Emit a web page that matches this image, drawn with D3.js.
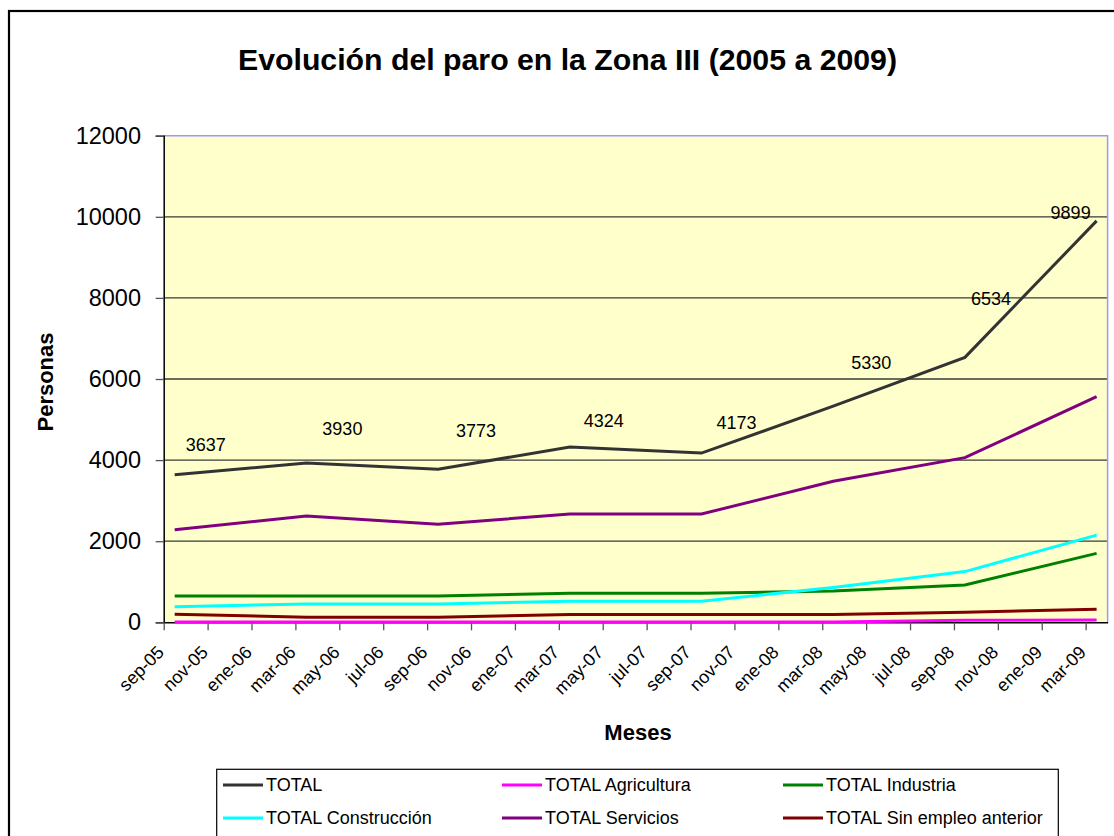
<!DOCTYPE html>
<html lang="es">
<head>
<meta charset="utf-8">
<title>Evolución del paro en la Zona III (2005 a 2009)</title>
<script src="https://cdn.jsdelivr.net/npm/d3@7"></script>
<style>
  html, body { margin: 0; padding: 0; background: #ffffff; }
  svg { display: block; font-family: "Liberation Sans", Arial, sans-serif; }
</style>
</head>
<body>
<svg id="chart" width="1114" height="836"></svg>
<script>
// Semiannual unemployment figures, Zona III
const pointMonths  = ["sep-05", "mar-06", "sep-06", "mar-07", "sep-07", "mar-08", "sep-08", "mar-09"];
const total        = [3637, 3930, 3773, 4324, 4173, 5330, 6534, 9899];
const agricultura  = [5, 5, 5, 5, 5, 5, 50, 55];
const industria    = [650, 650, 650, 715, 715, 770, 920, 1700];
const construccion = [385, 450, 450, 520, 520, 860, 1250, 2150];
const servicios    = [2280, 2620, 2420, 2670, 2670, 3480, 4060, 5565];
const sinEmpleo    = [200, 125, 125, 190, 190, 195, 250, 320];

// Axis labels
const axisMonths = ["sep-05", "nov-05", "ene-06", "mar-06", "may-06", "jul-06", "sep-06", "nov-06",
                    "ene-07", "mar-07", "may-07", "jul-07", "sep-07", "nov-07", "ene-08", "mar-08",
                    "may-08", "jul-08", "sep-08", "nov-08", "ene-09", "mar-09"];
const yTicks = [0, 2000, 4000, 6000, 8000, 10000, 12000];

const seriesNames  = ["TOTAL", "TOTAL Agricultura", "TOTAL Industria",
                      "TOTAL Construcción", "TOTAL Servicios", "TOTAL Sin empleo anterior"];
const seriesValues = [total, agricultura, industria, construccion, servicios, sinEmpleo];
const seriesColors = ["#333333", "#ff00ff", "#008000", "#00ffff", "#800080", "#800000"];

// Month labels -> month index counted from sep-05
const mesAbbr = ["ene", "feb", "mar", "abr", "may", "jun", "jul", "ago", "sep", "oct", "nov", "dic"];
function monthIndex(label) {
  const [m, yy] = label.split("-");
  return (2000 + (+yy) - 2005) * 12 + mesAbbr.indexOf(m) - 8;
}
const spanMonths = monthIndex("mar-09") + 1;   // plot runs to the end of mar-09

const svg = d3.select("#chart");
const plot = { left: 163.7, right: 1107.6, top: 135.7, bottom: 622.3 };
const font = '"Liberation Sans", Arial, sans-serif';

// Outer chart frame
svg.append("rect")
  .attr("x", 9).attr("y", 11).attr("width", 1300).attr("height", 1000)
  .attr("fill", "#ffffff").attr("stroke", "#000000").attr("stroke-width", 2.2);

// Title
svg.append("text")
  .attr("x", 567.5).attr("y", 70)
  .attr("text-anchor", "middle")
  .attr("font-size", 30).attr("font-weight", "bold")
  .attr("textLength", 659).attr("lengthAdjust", "spacingAndGlyphs")
  .text("Evolución del paro en la Zona III (2005 a 2009)");

// Scales
const x = d3.scaleLinear().domain([0, spanMonths]).range([plot.left, plot.right]);
const y = d3.scaleLinear().domain([0, 12000]).range([plot.bottom, plot.top]);

// Plot background
svg.append("rect")
  .attr("x", plot.left).attr("y", plot.top)
  .attr("width", plot.right - plot.left).attr("height", plot.bottom - plot.top)
  .attr("fill", "#ffffcc");

// Horizontal gridlines
svg.append("g")
  .selectAll("line")
  .data(yTicks.filter(v => v > 0 && v < 12000))
  .join("line")
  .attr("x1", plot.left).attr("x2", plot.right)
  .attr("y1", d => y(d)).attr("y2", d => y(d))
  .attr("stroke", "#3a3a3a").attr("stroke-width", 1.3);

// Plot area border (top and right)
svg.append("path")
  .attr("d", `M${plot.left},${y(12000)}H${plot.right}V${plot.bottom}`)
  .attr("fill", "none").attr("stroke", "#9999ff").attr("stroke-width", 1.5);

// Y axis
const yAxis = svg.append("g")
  .attr("transform", `translate(${plot.left},0)`)
  .call(d3.axisLeft(y).tickValues(yTicks).tickFormat(d3.format("d")).tickSize(8).tickPadding(14.7));
yAxis.select(".domain").attr("stroke", "#000").attr("stroke-width", 1.5);
yAxis.selectAll(".tick line").attr("stroke", "#555").attr("stroke-width", 1.3);
yAxis.selectAll("text")
  .attr("font-family", font).attr("font-size", 23.5).attr("fill", "#000");

// X axis: tick every two months, labels rotated
const xTickVals = axisMonths.map(monthIndex);
const xAxis = svg.append("g")
  .attr("transform", `translate(0,${plot.bottom})`)
  .call(d3.axisBottom(x).tickValues(xTickVals)
        .tickFormat((d, i) => axisMonths[i]).tickSize(8).tickSizeOuter(0));
xAxis.select(".domain").attr("stroke", "#000").attr("stroke-width", 1.5);
xAxis.selectAll(".tick line").attr("stroke", "#555").attr("stroke-width", 1.3);
xAxis.selectAll("text")
  .attr("x", null).attr("y", null).attr("dy", null)
  .attr("transform", "translate(1,31) rotate(-45)")
  .attr("text-anchor", "end")
  .attr("font-family", font).attr("font-size", 18).attr("fill", "#000");

// Axis titles
svg.append("text")
  .attr("transform", "translate(53,382) rotate(-90)")
  .attr("text-anchor", "middle")
  .attr("font-size", 22).attr("font-weight", "bold")
  .text("Personas");
svg.append("text")
  .attr("x", 638).attr("y", 740)
  .attr("text-anchor", "middle")
  .attr("font-size", 22).attr("font-weight", "bold")
  .text("Meses");

// Series lines (each point sits in the middle of its month)
const line = d3.line()
  .x((d, i) => x(monthIndex(pointMonths[i]) + 0.5))
  .y(d => y(d));
svg.append("g")
  .selectAll("path")
  .data(seriesValues)
  .join("path")
  .attr("d", d => line(d))
  .attr("fill", "none")
  .attr("stroke", (d, i) => seriesColors[i])
  .attr("stroke-width", 3)
  .attr("stroke-linejoin", "miter");

// Value labels on the TOTAL line, nudged clear of the line
const labelNudge = [[31, -24], [36, -28], [38, -32], [34, -20], [35, -24], [38, -37], [26, -52], [-26, -2]];
svg.append("g")
  .selectAll("text")
  .data(total)
  .join("text")
  .attr("x", (d, i) => x(monthIndex(pointMonths[i]) + 0.5) + labelNudge[i][0])
  .attr("y", (d, i) => y(d) + labelNudge[i][1])
  .attr("text-anchor", "middle")
  .attr("font-size", 18).attr("fill", "#000")
  .text(d => d);

// Legend
const legend = svg.append("g");
legend.append("rect")
  .attr("x", 216.7).attr("y", 769.3).attr("width", 1058.3 - 216.7).attr("height", 200)
  .attr("fill", "#ffffff").attr("stroke", "#000").attr("stroke-width", 1.2);
const colX = [223, 502, 783];
const rowY = [785, 818];
const items = legend.selectAll("g.item")
  .data(seriesNames)
  .join("g")
  .attr("class", "item")
  .attr("transform", (d, i) => `translate(${colX[i % 3]},${rowY[Math.floor(i / 3)]})`);
items.append("line")
  .attr("x1", 0).attr("x2", 40).attr("y1", 0).attr("y2", 0)
  .attr("stroke", (d, i) => seriesColors[i]).attr("stroke-width", 3);
items.append("text")
  .attr("x", 43).attr("y", 0).attr("dy", "0.35em")
  .attr("font-size", 18).attr("fill", "#000")
  .text(d => d);
</script>
</body>
</html>
